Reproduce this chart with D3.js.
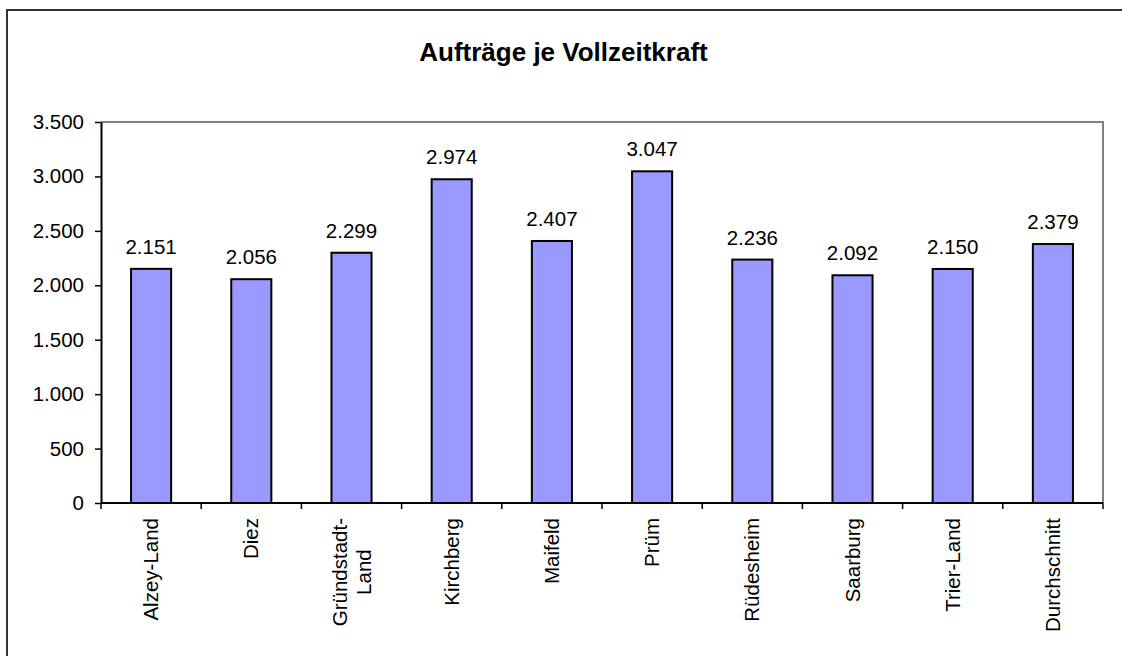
<!DOCTYPE html>
<html>
<head>
<meta charset="utf-8">
<script src="https://cdn.jsdelivr.net/npm/d3@7"></script>
<style>
	body { margin: 0; background: #fff; }
	svg { display: block; font-family: Arial, "Liberation Sans", sans-serif; }
</style>
</head>
<body>
<svg id="chart" width="1122" height="656"></svg>
<script>
"use strict"

// chart data
var categories = ["Alzey-Land", "Diez", "Gründstadt-\nLand", "Kirchberg", "Maifeld", "Prüm", "Rüdesheim", "Saarburg", "Trier-Land", "Durchschnitt"];
var values = [2151, 2056, 2299, 2974, 2407, 3047, 2236, 2092, 2150, 2379];
var yTicks = [0, 500, 1000, 1500, 2000, 2500, 3000, 3500];
var title = "Aufträge je Vollzeitkraft";

var de = d3.formatLocale({decimal: ",", thousands: ".", grouping: [3], currency: ["", " €"]});
var fmt = de.format(",.0f");

var plotLeft = 101, plotRight = 1103, plotTop = 122, plotBottom = 503;
var svg = d3.select("#chart");

// outer frame (only left and top visible)
svg.append("path")
	.attr("d", "M 7 660 V 10 H 1130")
	.attr("fill", "none")
	.attr("stroke", "#333")
	.attr("stroke-width", 2);

svg.append("text")
	.attr("x", 563.5)
	.attr("y", 61)
	.attr("text-anchor", "middle")
	.attr("font-weight", "bold")
	.attr("font-size", 26)
	.text(title);

var x = d3.scaleBand()
	.domain(categories)
	.range([plotLeft, plotRight])
	.paddingInner(0.6)
	.paddingOuter(0.3);
var step = x.step();

var y = d3.scaleLinear()
	.domain([0, 3500])
	.range([plotBottom, plotTop]);

// plot frame top + right in grey
svg.append("path")
	.attr("d", "M " + plotLeft + " " + plotTop + " H " + plotRight + " V " + plotBottom)
	.attr("fill", "none")
	.attr("stroke", "#808080")
	.attr("stroke-width", 2);

// bars
svg.append("g").selectAll("rect")
	.data(values)
	.enter().append("rect")
	.attr("x", function(d, i) { return x(categories[i]); })
	.attr("y", function(d) { return y(d); })
	.attr("width", x.bandwidth())
	.attr("height", function(d) { return y(0) - y(d); })
	.attr("fill", "#9999ff")
	.attr("stroke", "#000")
	.attr("stroke-width", 2);

// value labels
svg.append("g").selectAll("text")
	.data(values)
	.enter().append("text")
	.attr("x", function(d, i) { return x(categories[i]) + x.bandwidth() / 2; })
	.attr("y", function(d) { return y(d) - 15; })
	.attr("text-anchor", "middle")
	.attr("font-size", 20.5)
	.text(function(d) { return fmt(d); });

// y axis
var yAxis = svg.append("g")
	.attr("transform", "translate(" + plotLeft + ",0)")
	.call(d3.axisLeft(y).tickValues(yTicks).tickFormat(fmt).tickSize(6).tickPadding(11).tickSizeOuter(0));
yAxis.select(".domain").attr("stroke", "#000").attr("stroke-width", 2);
yAxis.selectAll(".tick line").attr("stroke", "#000").attr("stroke-width", 1.5);
yAxis.selectAll(".tick text")
	.attr("font-size", 20.5)
	.attr("font-family", "Arial, 'Liberation Sans', sans-serif")
	.attr("fill", "#000");

// x axis line and boundary ticks
var bounds = categories.map(function(c) { return x(c) - step * x.paddingOuter(); });
bounds.push(plotRight);
var xg = svg.append("g");
xg.append("line")
	.attr("x1", plotLeft).attr("x2", plotRight)
	.attr("y1", plotBottom).attr("y2", plotBottom)
	.attr("stroke", "#000")
	.attr("stroke-width", 2);
xg.selectAll(".xt")
	.data(bounds)
	.enter().append("line")
	.attr("x1", function(d) { return d; })
	.attr("x2", function(d) { return d; })
	.attr("y1", plotBottom)
	.attr("y2", plotBottom + 6)
	.attr("stroke", "#000")
	.attr("stroke-width", 1.5);

// category labels, rotated
var labelTop = 518;
categories.forEach(function(c) {
	var lines = c.split("\n");
	var cx = x(c) + x.bandwidth() / 2;
	var g = svg.append("g");
	var t = g.append("text")
		.attr("font-size", 20.5)
		.attr("text-anchor", "middle");
	lines.forEach(function(l) {
		t.append("tspan").text(l);
	});
	var maxW = 0;
	t.selectAll("tspan").each(function() { maxW = Math.max(maxW, this.getComputedTextLength()); });
	var lh = 24;
	t.selectAll("tspan")
		.attr("x", 0)
		.attr("y", function(d, i) { return (i - (lines.length - 1) / 2) * lh + 7; });
	g.attr("transform", "translate(" + cx + "," + (labelTop + maxW / 2) + ") rotate(-90)");
});
</script>
</body>
</html>
